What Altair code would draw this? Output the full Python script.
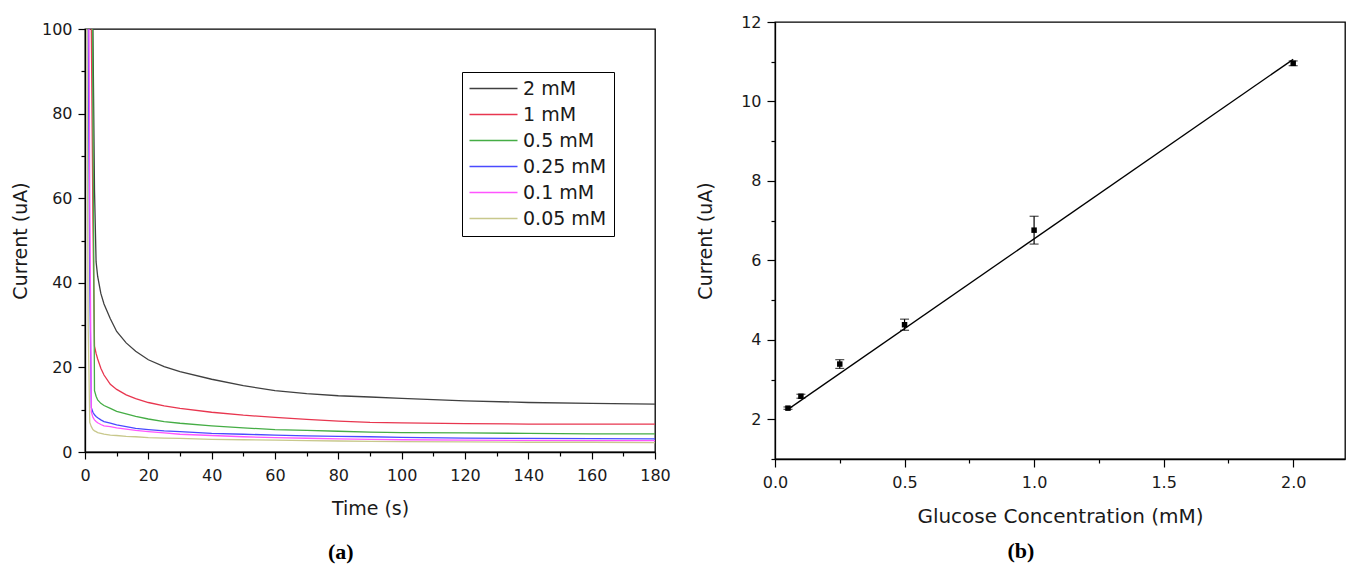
import altair as alt
import pandas as pd

# ---------------- Panel (a): chronoamperometry ----------------
time_s = [0.3, 1.0, 1.5, 2.0, 2.5, 3.0, 3.5, 4, 5, 6, 8, 10, 13, 16, 20, 25, 30,
          40, 50, 60, 70, 80, 90, 100, 120, 140, 160, 180]
curr_2mM = [150, 150, 150, 150, 100, 62, 45, 41.5, 37.5, 35, 31.5, 28.5, 25.8, 23.8,
            21.8, 20.2, 19.0, 17.2, 15.7, 14.5, 13.8, 13.3, 13.0, 12.7, 12.1, 11.7, 11.5, 11.3]
curr_1mM = [150, 150, 150, 100, 55, 25, 23.3, 22, 19.8, 18.2, 16.0, 14.8, 13.5, 12.6,
            11.7, 10.9, 10.3, 9.4, 8.7, 8.2, 7.7, 7.3, 7.0, 6.9, 6.7, 6.6, 6.6, 6.6]
curr_05mM = [150, 150, 150, 150, 80, 14.5, 13.2, 12.3, 11.5, 11.0, 10.3, 9.6, 9.0, 8.4,
             7.8, 7.2, 6.8, 6.2, 5.7, 5.3, 5.1, 4.9, 4.7, 4.6, 4.5, 4.4, 4.3, 4.3]
curr_025mM = [150, 100, 40, 10.5, 9.4, 8.8, 8.4, 8.1, 7.6, 7.2, 6.8, 6.4, 6.0, 5.6,
              5.3, 5.0, 4.8, 4.4, 4.2, 4.0, 3.8, 3.7, 3.6, 3.45, 3.3, 3.2, 3.15, 3.1]
curr_01mM = [150, 150, 60, 9.5, 8.2, 7.6, 7.2, 6.9, 6.5, 6.2, 6.0, 5.7, 5.4, 5.1,
             4.8, 4.5, 4.2, 3.9, 3.6, 3.4, 3.25, 3.1, 3.0, 2.9, 2.8, 2.75, 2.7, 2.7]
curr_005mM = [150, 30, 7.0, 6.0, 5.3, 5.0, 4.8, 4.6, 4.4, 4.2, 4.0, 3.9, 3.7, 3.6,
              3.4, 3.3, 3.2, 3.0, 2.9, 2.8, 2.7, 2.6, 2.5, 2.45, 2.4, 2.3, 2.3, 2.2]

series_labels = ["2 mM", "1 mM", "0.5 mM", "0.25 mM", "0.1 mM", "0.05 mM"]
series_colors = ["#404040", "#e8364f", "#45ad45", "#4a4aff", "#ff55ff", "#c8c88c"]
series_values = [curr_2mM, curr_1mM, curr_05mM, curr_025mM, curr_01mM, curr_005mM]

# ---------------- Panel (b): calibration ----------------
conc_mM = [0.05, 0.1, 0.25, 0.5, 1.0, 2.0]
mean_uA = [2.28, 2.58, 3.39, 4.38, 6.76, 10.96]
sd_uA = [0.03, 0.05, 0.11, 0.14, 0.35, 0.06]
fit_conc = [0.05, 2.0]
fit_uA = [2.25, 11.06]

x_ticks_a = list(range(0, 181, 10))
y_ticks_a = list(range(0, 101, 10))
x_ticks_b = [0, 0.25, 0.5, 0.75, 1.0, 1.25, 1.5, 1.75, 2.0]
y_ticks_b = list(range(1, 13))

FONT = "DejaVu Sans"

rows = []
for lab, vals in zip(series_labels, series_values):
    for t, v in zip(time_s, vals):
        rows.append({"t": t, "i": v, "c": lab})
df_a = pd.DataFrame(rows)

df_b = pd.DataFrame({
    "x": conc_mM,
    "y": mean_uA,
    "lo": [m - s for m, s in zip(mean_uA, sd_uA)],
    "hi": [m + s for m, s in zip(mean_uA, sd_uA)],
})
df_fit = pd.DataFrame({"x": fit_conc, "y": fit_uA})


def spacer():
    return alt.Chart(pd.DataFrame({"v": [0]})).mark_point(
        opacity=0, size=0, strokeWidth=0
    ).properties(width=10, height=1, view=alt.ViewBackground(stroke=None))


# ---- axes ----
ax_x_a = alt.Axis(
    title="Time (s)", values=x_ticks_a,
    labelExpr="datum.value % 20 === 0 ? datum.label : ''",
    tickSize={"condition": {"test": "datum.value % 20 !== 0", "value": 4}, "value": 7},
    labelPadding=8, titlePadding=16, labelFlush=False, labelOverlap=False,
)
ax_y_a = alt.Axis(
    title="Current (uA)", values=y_ticks_a,
    labelExpr="datum.value % 20 === 0 ? datum.label : ''",
    tickSize={"condition": {"test": "datum.value % 20 !== 0", "value": 4}, "value": 7},
    labelPadding=6, titlePadding=11, labelFlush=False, labelOverlap=False,
)

legend_a = alt.Legend(
    title=None, orient="none", legendX=377, legendY=64,
    symbolType="M-3,0H3", symbolSize=256, symbolStrokeWidth=1.5,
    symbolOffset=15, labelOffset=20,
    labelFontSize=19, labelFont=FONT, labelColor="#1a1a1a",
    strokeColor="black", fillColor="white", padding=7, rowPadding=6,
)

chart_a = alt.Chart(df_a).mark_line(clip=True, strokeWidth=1.3).encode(
    x=alt.X("t:Q", scale=alt.Scale(domain=[0, 180], nice=False), axis=ax_x_a),
    y=alt.Y("i:Q", scale=alt.Scale(domain=[0, 100], nice=False), axis=ax_y_a),
    color=alt.Color("c:N", scale=alt.Scale(domain=series_labels, range=series_colors),
                    legend=legend_a),
).properties(
    width=570, height=423,
    title=alt.TitleParams("(a)", orient="bottom", anchor="middle", frame="bounds",
                          font="Liberation Serif", fontSize=22, fontWeight="bold",
                          color="black", offset=24),
)
left_block = alt.vconcat(spacer(), chart_a, spacing=11)

ax_x_b = alt.Axis(
    title="Glucose Concentration (mM)", values=x_ticks_b,
    labelExpr="round(datum.value * 4) % 2 === 0 ? format(datum.value, '.1f') : ''",
    tickSize={"condition": {"test": "round(datum.value * 4) % 2 !== 0", "value": 4}, "value": 8},
    labelPadding=7, titlePadding=16, titleFontSize=20, labelFlush=False, labelOverlap=False,
)
ax_y_b = alt.Axis(
    title="Current (uA)", values=y_ticks_b,
    labelExpr="datum.value % 2 === 0 ? datum.label : ''",
    tickSize={"condition": {"test": "datum.value % 2 !== 0", "value": 4}, "value": 8},
    labelPadding=6, titlePadding=25, labelFlush=False, labelOverlap=False,
)
sx = alt.Scale(domain=[0, 2.2], nice=False)
sy = alt.Scale(domain=[1, 12], nice=False)

fit_line = alt.Chart(df_fit).mark_line(color="black", strokeWidth=1.3).encode(
    x=alt.X("x:Q", scale=sx, axis=ax_x_b),
    y=alt.Y("y:Q", scale=sy, axis=ax_y_b),
)
err_rule = alt.Chart(df_b).mark_rule(color="black", strokeWidth=1.2).encode(
    x=alt.X("x:Q", scale=sx, axis=ax_x_b),
    y=alt.Y("lo:Q", scale=sy, axis=ax_y_b),
    y2="hi:Q",
)
cap_lo = alt.Chart(df_b).mark_tick(orient="horizontal", size=9, thickness=1.2, color="black").encode(
    x=alt.X("x:Q", scale=sx, axis=ax_x_b),
    y=alt.Y("lo:Q", scale=sy, axis=ax_y_b),
)
cap_hi = alt.Chart(df_b).mark_tick(orient="horizontal", size=9, thickness=1.2, color="black").encode(
    x=alt.X("x:Q", scale=sx, axis=ax_x_b),
    y=alt.Y("hi:Q", scale=sy, axis=ax_y_b),
)
points = alt.Chart(df_b).mark_square(size=30, color="black", opacity=1).encode(
    x=alt.X("x:Q", scale=sx, axis=ax_x_b),
    y=alt.Y("y:Q", scale=sy, axis=ax_y_b),
)

chart_b = alt.layer(fit_line, err_rule, cap_lo, cap_hi, points).properties(
    width=570, height=437,
    title=alt.TitleParams("(b)", orient="bottom", anchor="middle", frame="bounds",
                          font="Liberation Serif", fontSize=22, fontWeight="bold",
                          color="black", offset=15),
)
right_block = alt.vconcat(spacer(), chart_b, spacing=4)

chart = alt.hconcat(left_block, right_block, spacing=24).properties(
    padding={"left": 2, "top": 0, "right": 0, "bottom": 0},
    background="white",
).configure_view(
    stroke="black", strokeWidth=1.3
).configure_axis(
    grid=False, domainColor="black", domainWidth=1.3, tickColor="black", tickWidth=1.2,
    labelFont=FONT, labelFontSize=16, labelColor="#1a1a1a",
    titleFont=FONT, titleFontSize=19, titleFontWeight="normal", titleColor="#1a1a1a",
)

chart.save("out.html", embed_options={"renderer": "svg", "actions": False})
